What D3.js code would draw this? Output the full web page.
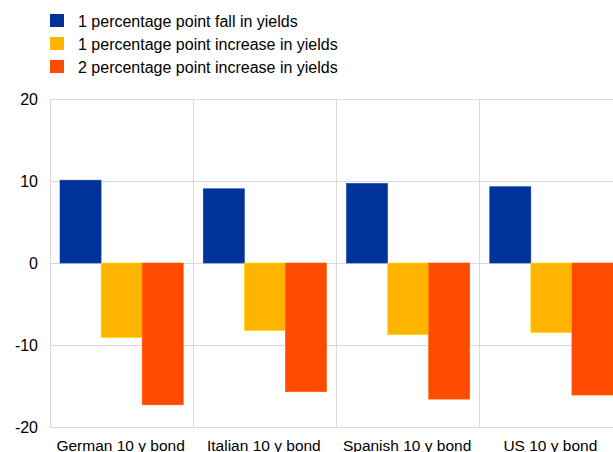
<!DOCTYPE html>
<html><head><meta charset="utf-8">
<script src="https://cdn.jsdelivr.net/npm/d3@7"></script>
<style>body{margin:0;background:#fff}svg{display:block}text{font-family:"Liberation Sans",Arial,sans-serif;fill:#000}</style>
</head><body><svg id="c" width="613" height="452"></svg>
<script>
const categories = ["German 10 y bond","Italian 10 y bond","Spanish 10 y bond","US 10 y bond"];
const seriesNames = ["1 percentage point fall in yields","1 percentage point increase in yields","2 percentage point increase in yields"];
const fall1 = [10.1, 9.05, 9.7, 9.3];
const rise1 = [-9.1, -8.25, -8.75, -8.5];
const rise2 = [-17.3, -15.7, -16.6, -16.1];
const yTicks = [-20, -10, 0, 10, 20];
const colors = ["#003299","#FFB400","#FF4B00"];

const series = [fall1, rise1, rise2];
const svg = d3.select("#c");
const m = {l:50, r:623, t:99, b:427};
const x = d3.scaleBand().domain(categories).range([m.l, m.r]).paddingInner(0).paddingOuter(0);
const y = d3.scaleLinear().domain([-20,20]).range([m.b, m.t]);

// grid
svg.append("g").selectAll("line").data(yTicks).join("line")
  .attr("x1", m.l).attr("x2", m.r).attr("y1", d=>y(d)).attr("y2", d=>y(d))
  .attr("stroke", "#d9d9d9").attr("stroke-width",1).attr("shape-rendering","crispEdges");
svg.append("g").selectAll("line").data(d3.range(categories.length+1)).join("line")
  .attr("x1", i=>m.l + i*x.step()).attr("x2", i=>m.l + i*x.step())
  .attr("y1", m.t).attr("y2", m.b)
  .attr("stroke", "#d9d9d9").attr("stroke-width",1).attr("shape-rendering","crispEdges");

// bars
const pad = 10;
const bw = (x.bandwidth() - 2*pad)/3;
series.forEach((s, si) => {
  svg.append("g").selectAll("rect").data(s).join("rect")
    .attr("x", (d,i)=> x(categories[i]) + pad + si*bw)
    .attr("width", bw)
    .attr("y", d => y(Math.max(0,d)))
    .attr("height", d => Math.abs(y(d)-y(0)))
    .attr("fill", colors[si])
    .attr("stroke", d3.color(colors[si]).brighter(0.6))
    .attr("stroke-width", 0.6);
});

// y axis labels
svg.append("g").selectAll("text").data(yTicks).join("text")
  .attr("x", 38).attr("y", d=>y(d)).attr("dy","0.35em")
  .attr("text-anchor","end").style("font-size","16px").text(d=>d);

// x labels
svg.append("g").selectAll("text").data(categories).join("text")
  .attr("x", d=>x(d)+x.bandwidth()/2 - 1).attr("y", 451)
  .attr("text-anchor","middle").style("font-size","15.5px").text(d=>d);

// legend
const lg = svg.append("g");
seriesNames.forEach((n,i)=>{
  const cy = 21 + i*23;
  lg.append("rect").attr("x",50).attr("y",cy-7).attr("width",14).attr("height",13).attr("fill",colors[i]);
  lg.append("text").attr("x",78).attr("y",cy).attr("dy","0.35em").style("font-size","16px").text(n);
});
</script></body></html>
